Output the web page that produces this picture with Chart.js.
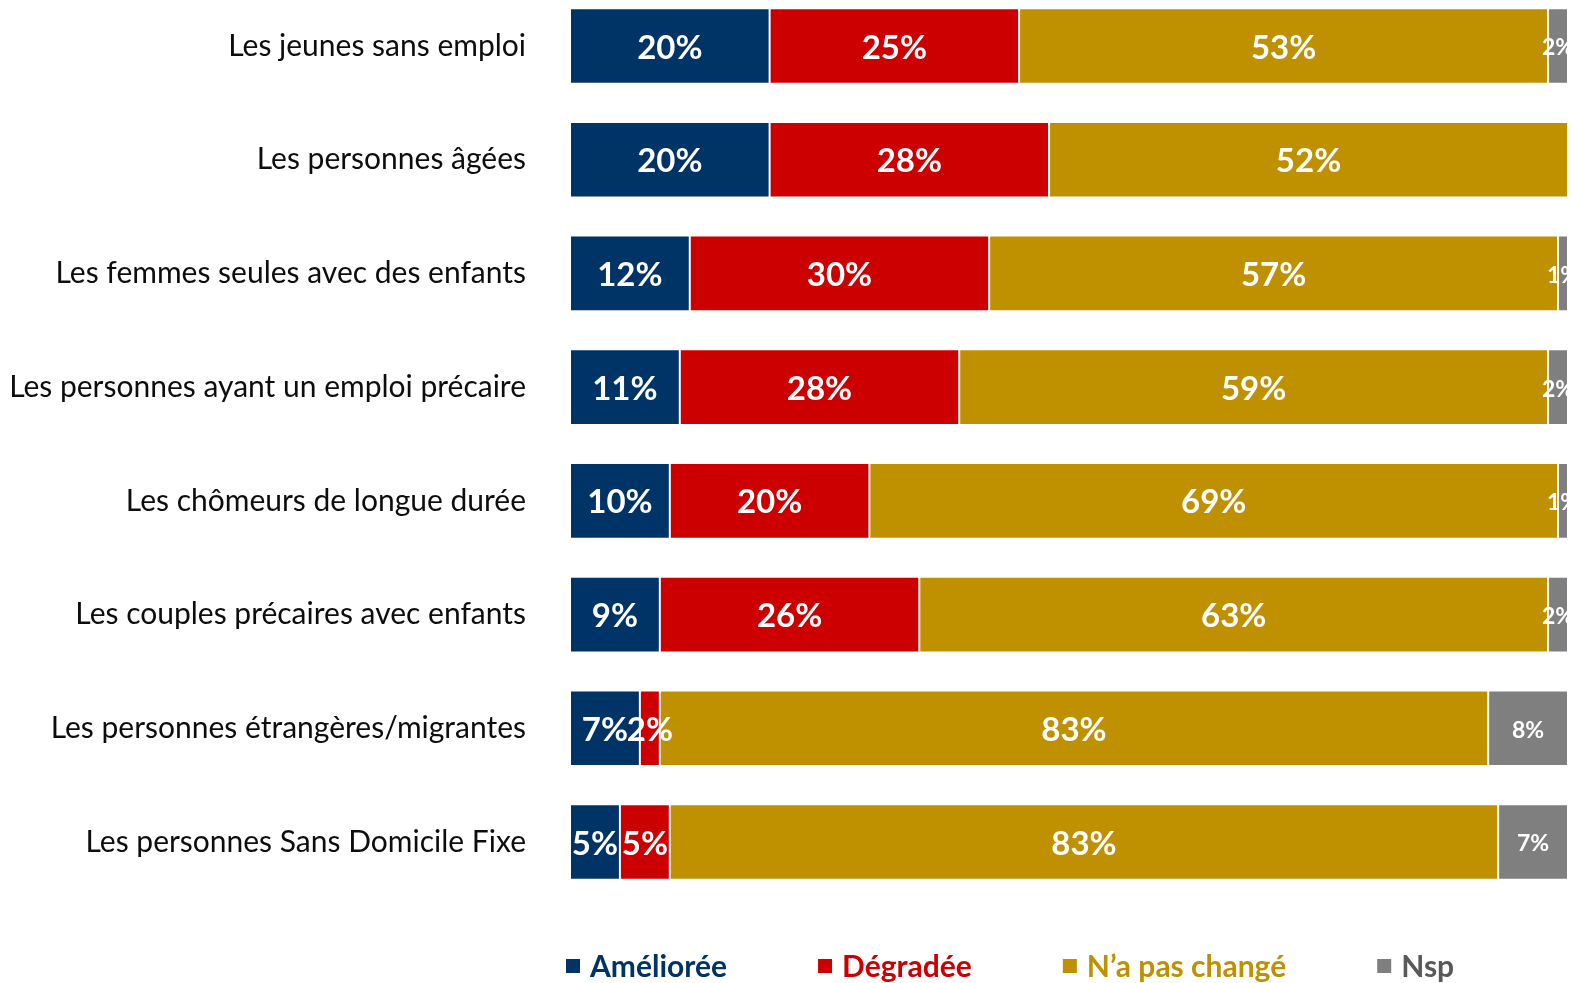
<!DOCTYPE html>
<html lang="fr">
<head>
<meta charset="utf-8">
<title>Situation des publics</title>
<script src="https://cdn.jsdelivr.net/npm/chart.js@4.4.1/dist/chart.umd.min.js"></script>
<style>
  html, body { margin: 0; padding: 0; background: #fff; overflow: hidden; }
  #wrap { width: 1573px; height: 983px; position: relative; }
</style>
</head>
<body>
<div id="wrap"><canvas id="chart"></canvas></div>
<script>
const categories = [
  'Les jeunes sans emploi',
  'Les personnes âgées',
  'Les femmes seules avec des enfants',
  'Les personnes ayant un emploi précaire',
  'Les chômeurs de longue durée',
  'Les couples précaires avec enfants',
  'Les personnes étrangères/migrantes',
  'Les personnes Sans Domicile Fixe'
];
const seriesNames = ['Améliorée', 'Dégradée', 'N’a pas changé', 'Nsp'];
const ameliore = [20, 20, 12, 11, 10, 9, 7, 5];
const degrade = [25, 28, 30, 28, 20, 26, 2, 5];
const inchange = [53, 52, 57, 59, 69, 63, 83, 83];
const nsp = [2, 0, 1, 2, 1, 2, 8, 7];

const colors = ['#003366', '#CC0000', '#BF9000', '#7F7F7F'];
const legendText = ['#003366', '#CC0000', '#BF9000', '#595959'];
const FONT = 'Lato, "Open Sans", sans-serif';

// white % labels centred in each segment
const segmentLabels = {
  id: 'segmentLabels',
  afterDatasetsDraw(chart) {
    const { ctx, chartArea } = chart;
    ctx.save();
    ctx.beginPath();
    ctx.rect(0, 0, chartArea.right, chart.height);
    ctx.clip();
    ctx.fillStyle = '#fff';
    ctx.textAlign = 'center';
    ctx.textBaseline = 'middle';
    chart.data.datasets.forEach((ds, i) => {
      const size = i === 3 ? 23 : 33;
      ctx.font = 'bold ' + size + 'px ' + FONT;
      chart.getDatasetMeta(i).data.forEach((bar, j) => {
        const v = ds.data[j];
        if (!v) return;
        const p = bar.getCenterPoint();
        ctx.fillText(v + '%', p.x, p.y + 2);
      });
    });
    ctx.restore();
  }
};

// legend under the bars, coloured text per series
const bottomLegend = {
  id: 'bottomLegend',
  afterDraw(chart) {
    const { ctx, chartArea } = chart;
    const y = 966;
    let x = chartArea.left - 4;
    ctx.save();
    ctx.font = 'bold 30px ' + FONT;
    ctx.textBaseline = 'middle';
    ctx.textAlign = 'left';
    seriesNames.forEach((name, i) => {
      ctx.fillStyle = colors[i];
      ctx.fillRect(x, y - 7, 14, 14);
      ctx.fillStyle = legendText[i];
      ctx.fillText(name, x + 24, y + 1);
      x += 24 + ctx.measureText(name).width + 91;
    });
    ctx.restore();
  }
};

const values = [ameliore, degrade, inchange, nsp];

function draw() {
  new Chart(document.getElementById('chart'), {
    type: 'bar',
    data: {
      labels: categories,
      datasets: values.map((d, i) => ({
        label: seriesNames[i],
        data: d,
        backgroundColor: colors[i],
        borderColor: '#ffffff',
        borderWidth: 1,
        borderSkipped: false,
        barPercentage: 0.665,
        categoryPercentage: 1,
        clip: false
      }))
    },
    options: {
      indexAxis: 'y',
      responsive: true,
      maintainAspectRatio: false,
      animation: false,
      // first and last category centres sit on the chart area edges
      layout: { padding: { left: 0, right: 5, top: 46, bottom: 141 } },
      plugins: {
        legend: { display: false },
        tooltip: { enabled: false }
      },
      scales: {
        x: {
          stacked: true,
          min: 0,
          max: 100,
          display: false
        },
        y: {
          stacked: true,
          offset: false,
          grid: { display: false, drawTicks: false },
          border: { display: false },
          ticks: {
            padding: 44,
            color: '#0d0d0d',
            font: { family: FONT, size: 30 }
          },
          afterFit(scale) {
            scale.width = 570;
            scale.paddingTop = 0;
            scale.paddingBottom = 0;
          }
        }
      }
    },
    plugins: [segmentLabels, bottomLegend]
  });
}

Promise.all([
  document.fonts.load('30px Lato'),
  document.fonts.load('bold 33px Lato')
]).then(draw, draw);
</script>
</body>
</html>
